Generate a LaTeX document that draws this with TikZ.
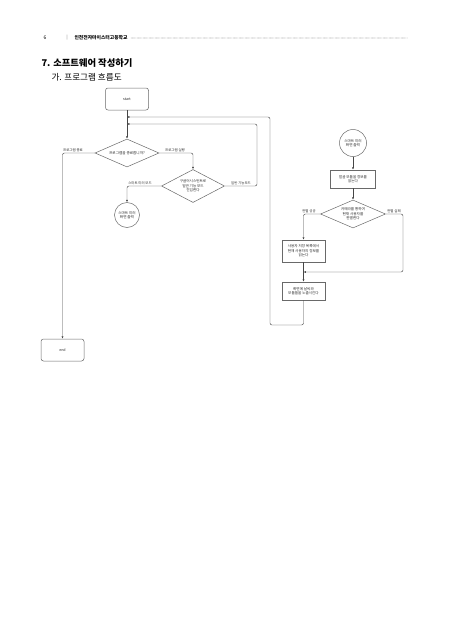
\documentclass[tikz,border=0pt]{standalone}
\usepackage{fontspec}
\setmainfont{Noto Sans CJK KR}
\usetikzlibrary{arrows.meta,positioning,calc,shapes.geometric}
\definecolor{fcline}{RGB}{70,70,70}
\definecolor{fcbox}{RGB}{105,105,105}
\definecolor{fctext}{RGB}{45,45,45}
\newcommand{\fsz}[2]{\fontsize{#1}{#2}\selectfont}

\begin{document}
\begin{tikzpicture}[x=1pt,y=-1pt,
  font=\fsz{3.6}{4.4},
  term/.style={draw=fcbox,line width=.5pt,rounded corners=2.5pt,minimum width=43pt,minimum height=22pt,text=fctext},
  proc/.style={draw=fcbox,line width=.5pt,align=center,inner sep=1pt,text=fctext},
  decide/.style={draw=fcbox,line width=.5pt,diamond,aspect=2,inner sep=0pt,align=center,text=fctext},
  connect/.style={draw=fcbox,line width=.5pt,circle,inner sep=0pt,minimum size=25pt,align=center,text=fctext},
  lbl/.style={font=\fsz{3.4}{4},text=fctext,inner sep=.6pt,anchor=south},
  flow/.style={-{Latex[length=2.4pt,width=2pt]},draw=fcline,line width=.45pt,rounded corners=2pt}]

\path[use as bounding box,fill=white] (0,0) rectangle (452,640);
% page header
\node[anchor=west,font=\fsz{5}{6}] (pgno) at (40,38) {6};
\node[anchor=west,font=\fsz{5}{6},text=black!45] (bar) at (61,38) {‖};
\node[anchor=west,font=\bfseries\fsz{4.8}{6}] (school) at (71,38) {인천전자마이스터고등학교};
\coordinate (ruleend) at (408,38);
\draw[black!60,line width=.55pt,line cap=round,dash pattern=on 0pt off 1.2pt] (school.east) -- (ruleend);
\node[anchor=west,font=\bfseries\fsz{9.3}{11}] (sect) at (38,63) {7. 소프트웨어 작성하기};
\node[anchor=west,font=\fsz{8.6}{10}] (subsect) at (48,77) {가. 프로그램 흐름도};

% main loop
\node[term] (start) at (127,99) {start};
\node[decide,minimum width=64pt,minimum height=28pt] (ask) at (127,153) {프로그램을 종료합니까?};
\node[decide,minimum width=63pt,minimum height=33pt] (mode) at (193,186) {구글어시스턴트로\\일반 기능 모드\\진입한다};
\node[connect] (mirA) at (127,215) {스마트 미러\\화면 출력};
\node[term] (stop) at (62.5,350) {end};
\coordinate (inA) at (127,117);
\coordinate (inB) at (127,124);
\coordinate (upA) at (257,124);

\node[lbl] (quitlbl) at (73,153) {프로그램 종료};
\node[lbl] (runlbl) at (175,153) {프로그램 실행};
\node[lbl] (mirlbl) at (140,186) {스마트 미러 모드};
\node[lbl] (genlbl) at (241,186) {일반 기능모드};

\draw[flow] (start) -- (ask);
\draw[flow] (ask.west) -| (stop.north);
\draw[flow] (ask.east) -| (mode.north);
\draw[flow] (mode.west) -| (mirA.north);
\draw[flow] (mode.east) -| (upA) -- (inB);

% mirror mode
\node[connect,minimum size=27pt] (mirB) at (353,143) {스마트 미러\\화면 출력};
\node[proc,minimum width=45pt,minimum height=18pt] (readcam) at (353,179) {얼굴 모듈을 정보를\\읽는다};
\node[decide,minimum width=65pt,minimum height=28pt] (who) at (353,214) {카메라를 통하여\\현재 사용자를\\판별한다};
\node[proc,minimum width=43pt,minimum height=22pt] (readuser) at (303.5,251) {사용자 저장 목록에서\\현재 사용자의 정보를\\읽는다};
\node[proc,minimum width=43pt,minimum height=18pt] (show) at (303.5,291) {화면에 날씨와\\모듈들을 노출시킨다};
\coordinate (failR) at (403,272);
\coordinate (joinR) at (303.5,272);
\coordinate (backB) at (270,325);

\node[lbl] (oklbl) at (309,214) {판별 성공};
\node[lbl] (nglbl) at (394,214) {판별 실패};

\draw[flow] (mirB) -- (readcam);
\draw[flow] (readcam) -- (who);
\draw[flow] (who.west) -| (readuser.north);
\draw[flow] (who.east) -| (failR) -- (joinR);
\draw[flow] (readuser) -- (show);
\draw[flow] (show.south) |- (backB) |- (inA);

\end{tikzpicture}
\end{document}
